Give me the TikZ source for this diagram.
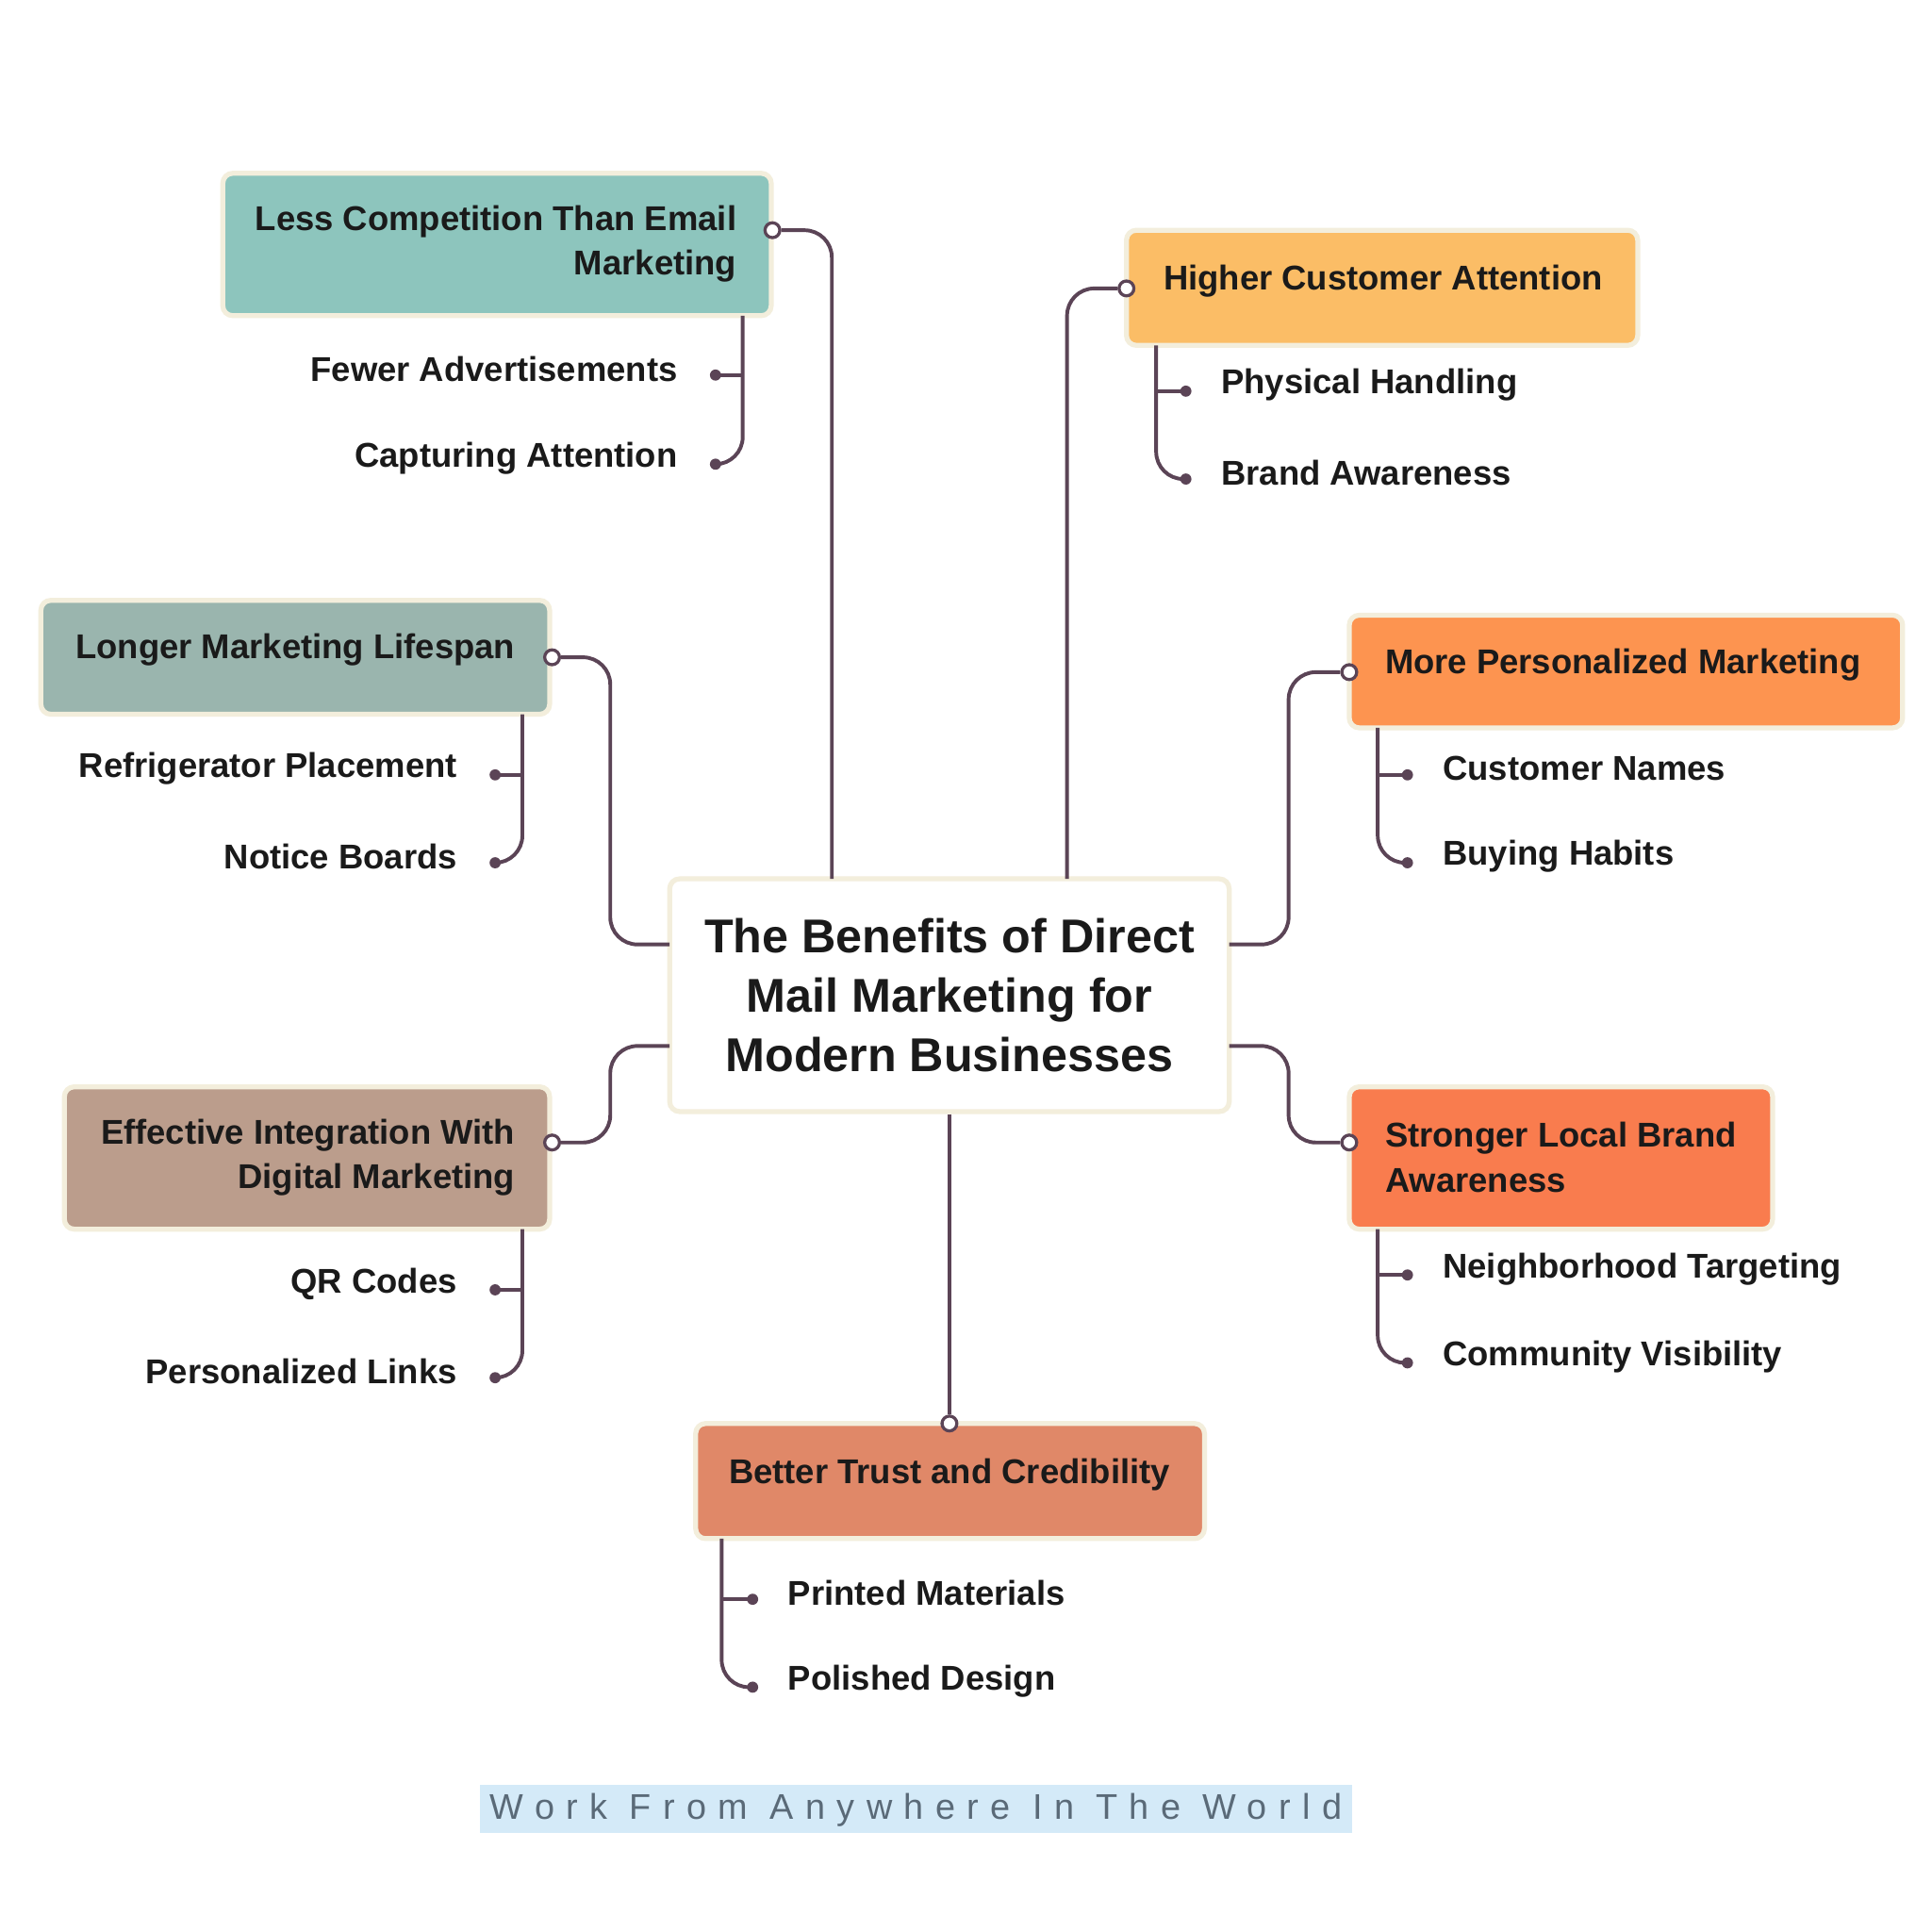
\documentclass[tikz,border=0pt]{standalone}
\usepackage{fontspec}
\setmainfont{Liberation Sans}
\newfontfamily\wmfont[LetterSpace=33]{Liberation Sans}
\definecolor{lnc}{HTML}{5B4456}
\definecolor{cream}{HTML}{F3EEDC}
\definecolor{txt}{HTML}{1A1A1A}
\definecolor{c1}{HTML}{8DC5BD}
\definecolor{c2}{HTML}{9AB5AE}
\definecolor{c3}{HTML}{BB9D8C}
\definecolor{c4}{HTML}{E08868}
\definecolor{c5}{HTML}{FBBD66}
\definecolor{c6}{HTML}{FD9450}
\definecolor{c7}{HTML}{F97C4E}
\definecolor{wmbg}{HTML}{D4EAF8}
\definecolor{wmtx}{HTML}{5A6A78}
\begin{document}
\begin{tikzpicture}[x=0.1mm,y=-0.1mm,
  ln/.style={draw=lnc,line width=0.3mm,rounded corners=2.2mm},
  box/.style={draw=cream,line width=0.4mm,rounded corners=0.8mm,inner sep=0pt,font=\fontsize{7.9}{10.2}\selectfont\bfseries,text=txt},
  kid/.style={inner sep=0pt,font=\fontsize{7.9}{10}\selectfont\bfseries,text=txt},
  dot/.style={circle,fill=lnc,inner sep=0pt,minimum size=0.9mm},
  ring/.style={circle,draw=lnc,fill=white,line width=0.25mm,inner sep=0pt,minimum size=1.2mm}]
\useasboundingbox (0,0) rectangle (1560,1560);
\fill[white] (0,0) rectangle (1560,1560);
% center
\node[box,fill=white,minimum width=45.2mm,minimum height=18.8mm,align=center,font=\fontsize{10.9}{13.6}\selectfont\bfseries] (c) at (767,804) {The Benefits of Direct\\Mail Marketing for\\Modern Businesses};
% boxes
\node[box,fill=c1,minimum width=44.3mm,minimum height=11.5mm] (b1) at (401.5,197.5) {};
\node[box,fill=c2,minimum width=41.1mm,minimum height=9.2mm] (b2) at (238.5,531) {};
\node[box,fill=c3,minimum width=39.2mm,minimum height=11.5mm] (b3) at (248,935.5) {};
\node[box,fill=c4,minimum width=41.1mm,minimum height=9.3mm] (b4) at (767.5,1196.5) {};
\node[box,fill=c5,minimum width=41.3mm,minimum height=9.3mm] (b5) at (1116.5,232.5) {};
\node[box,fill=c6,minimum width=44.7mm,minimum height=9.1mm] (b6) at (1313.5,542.5) {};
\node[box,fill=c7,minimum width=34.2mm,minimum height=11.5mm] (b7) at (1261,935.5) {};
% box texts
\node[box,draw=none,anchor=east,align=right] (t1) at (597,197) {Less Competition Than Email\\Marketing};
\node[box,draw=none,anchor=east] (t2) at (418,525) {Longer Marketing Lifespan};
\node[box,draw=none,anchor=east,align=right] (t3) at (418,935) {Effective Integration With\\Digital Marketing};
\node[box,draw=none] (t4) at (767,1191) {Better Trust and Credibility};
\node[box,draw=none,anchor=west] (t5) at (938,227) {Higher Customer Attention};
\node[box,draw=none,anchor=west] (t6) at (1117,537) {More Personalized Marketing};
\node[box,draw=none,anchor=west,align=left] (t7) at (1117,935) {Stronger Local Brand\\Awareness};
% main connectors
\coordinate (cTL) at (672,710); \coordinate (cTR) at (862,710);
\coordinate (cL1) at (541,763); \coordinate (cL2) at (541,845);
\coordinate (cR1) at (993,763); \coordinate (cR2) at (993,845);
\node[ring] (r1) at (624,186) {};
\node[ring] (r2) at (446,531) {};
\node[ring] (r3) at (446,923) {};
\node[ring] (r4) at (767,1150) {};
\node[ring] (r5) at (910,233) {};
\node[ring] (r6) at (1090,543) {};
\node[ring] (r7) at (1090,923) {};
\draw[ln] (r1.east) -- (672,186) -- (cTL);
\draw[ln] (r2.east) -- (493,531) -- (493,763) -- (cL1);
\draw[ln] (r3.east) -- (493,923) -- (493,845) -- (cL2);
\draw[ln] (c.south) -- (r4.north);
\draw[ln] (r5.west) -- (862,233) -- (cTR);
\draw[ln] (r6.west) -- (1041,543) -- (1041,763) -- (cR1);
\draw[ln] (r7.west) -- (1041,923) -- (1041,845) -- (cR2);
% children
\newcommand{\kidsL}[8]{%
  \node[dot] (#1a) at (#3,#4) {}; \node[dot] (#1b) at (#3,#5) {};
  \coordinate (#1t) at (#2,#6);
  \draw[ln] (#1t) -- (#2,#5) -- (#1b.center);
  \draw[draw=lnc,line width=0.3mm] (#2,#4) -- (#1a.center);
  \node[kid,anchor=east] at (#3-30,#4-5) {#7};
  \node[kid,anchor=east] at (#3-30,#5-5) {#8};}
\newcommand{\kidsR}[8]{%
  \node[dot] (#1a) at (#3,#4) {}; \node[dot] (#1b) at (#3,#5) {};
  \coordinate (#1t) at (#2,#6);
  \draw[ln] (#1t) -- (#2,#5) -- (#1b.center);
  \draw[draw=lnc,line width=0.3mm] (#2,#4) -- (#1a.center);
  \node[kid,anchor=west] at (#3+28,#4-5) {#7};
  \node[kid,anchor=west] at (#3+28,#5-5) {#8};}
\kidsL{k1}{600}{578}{303}{375}{255}{Fewer Advertisements}{Capturing Attention}
\kidsL{k2}{422}{400}{626}{697}{577}{Refrigerator Placement}{Notice Boards}
\kidsL{k3}{422}{400}{1042}{1113}{993}{QR Codes}{Personalized Links}
\kidsR{k4}{583}{608}{1292}{1363}{1243}{Printed Materials}{Polished Design}
\kidsR{k5}{934}{958}{316}{387}{279}{Physical Handling}{Brand Awareness}
\kidsR{k6}{1113}{1137}{626}{697}{588}{Customer Names}{Buying Habits}
\kidsR{k7}{1113}{1137}{1030}{1101}{993}{Neighborhood Targeting}{Community Visibility}
% watermark
\node[fill=wmbg,minimum width=70.4mm,minimum height=3.9mm,inner sep=0pt] (wm) at (740,1461.5) {};
\node[text=wmtx,font=\wmfont\fontsize{8.2}{10}\selectfont,inner sep=0pt] (wmt) at (740,1462) {Work From Anywhere In The World};
\end{tikzpicture}
\end{document}
